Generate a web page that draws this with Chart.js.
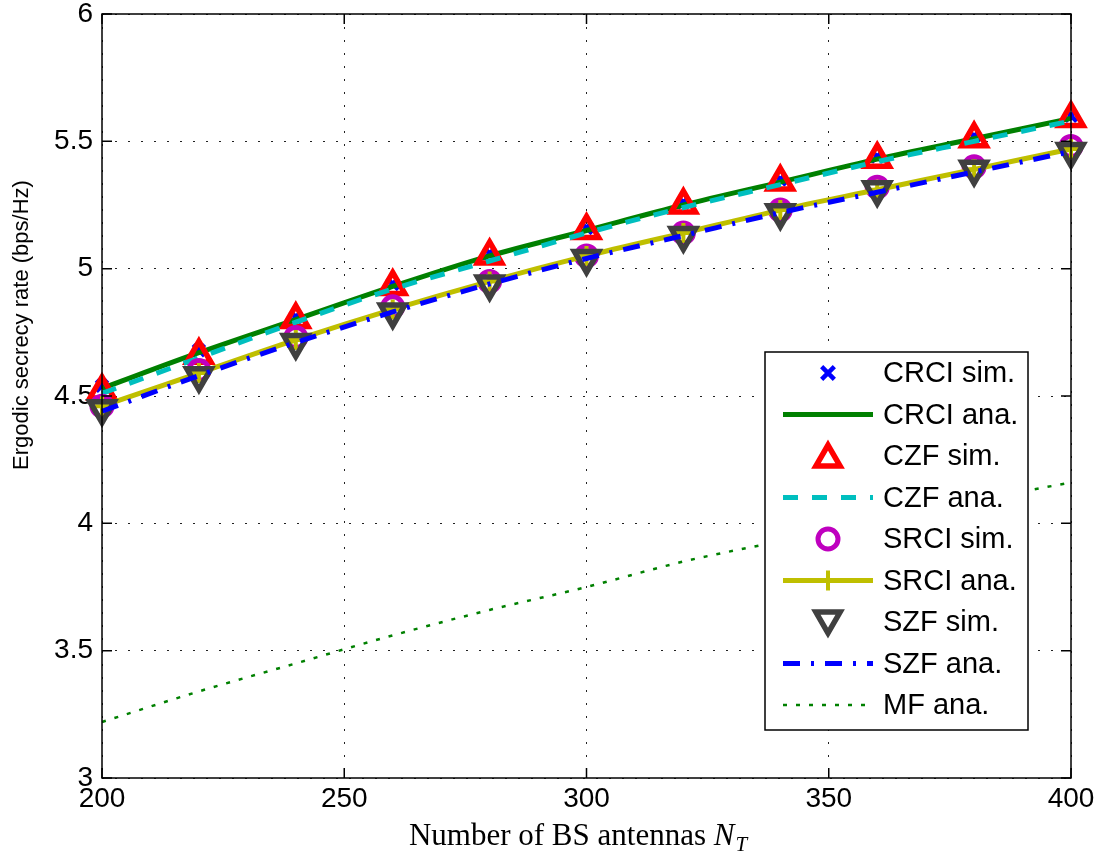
<!DOCTYPE html>
<html>
<head>
<meta charset="utf-8">
<title>Ergodic secrecy rate</title>
<script src="https://cdn.jsdelivr.net/npm/chart.js@4.4.1/dist/chart.umd.min.js"></script>
<style>
    html, body { margin: 0; padding: 0; background: #fff; }
    #wrap { width: 1099px; height: 857px; }
</style>
</head>
<body>
<div id="wrap"><canvas id="rateChart" width="1099" height="857"></canvas></div>
<script>
// ------------------------------
// Data
// ------------------------------

const antennas = [200, 220, 240, 260, 280, 300, 320, 340, 360, 380, 400];

const crciSim = [4.54, 4.68, 4.81, 4.94, 5.06, 5.16, 5.26, 5.35, 5.44, 5.52, 5.60];
const crciAna = [4.53, 4.67, 4.80, 4.93, 5.05, 5.15, 5.25, 5.34, 5.43, 5.51, 5.59];
const czfSim  = [4.52, 4.66, 4.80, 4.93, 5.05, 5.15, 5.25, 5.34, 5.43, 5.51, 5.59];
const czfAna  = [4.51, 4.65, 4.79, 4.92, 5.03, 5.14, 5.24, 5.33, 5.42, 5.50, 5.58];
const srciSim = [4.46, 4.60, 4.73, 4.85, 4.95, 5.05, 5.14, 5.23, 5.32, 5.40, 5.48];
const srciAna = [4.46, 4.59, 4.72, 4.84, 4.95, 5.05, 5.14, 5.23, 5.31, 5.39, 5.47];
const szfSim  = [4.45, 4.58, 4.71, 4.83, 4.94, 5.04, 5.13, 5.22, 5.31, 5.39, 5.46];
const szfAna  = [4.44, 4.58, 4.71, 4.83, 4.94, 5.04, 5.13, 5.22, 5.30, 5.38, 5.46];
const mfAna   = [3.22, 3.34, 3.45, 3.56, 3.66, 3.75, 3.85, 3.93, 4.01, 4.09, 4.16];

const seriesNames = ["CRCI sim.", "CRCI ana.", "CZF sim.", "CZF ana.", "SRCI sim.",
                     "SRCI ana.", "SZF sim.", "SZF ana.", "MF ana."];

const xTicks = [200, 250, 300, 350, 400];
const yTicks = [3, 3.5, 4, 4.5, 5, 5.5, 6];

// ------------------------------
// Helpers
// ------------------------------

function pts(ys) {
    return antennas.map((x, i) => ({ x: x, y: ys[i] }));
}

function markerSet(label, ys, color, style, radius, width, rotation) {
    return {
        label: label,
        data: pts(ys),
        showLine: false,
        borderColor: color,
        backgroundColor: "rgba(0,0,0,0)",
        pointStyle: style,
        pointRadius: radius,
        pointBorderWidth: width,
        pointRotation: rotation || 0,
        pointHoverRadius: radius,
        clip: false
    };
}

function lineSet(label, ys, color, width, dash, pointStyle, pointRadius) {
    return {
        label: label,
        data: pts(ys),
        showLine: true,
        borderColor: color,
        backgroundColor: color,
        borderWidth: width,
        borderDash: dash,
        borderCapStyle: "butt",
        cubicInterpolationMode: "monotone",
        pointStyle: pointStyle || "circle",
        pointRadius: pointRadius || 0,
        pointBorderWidth: 4,
        pointBorderColor: color,
        clip: false
    };
}

const datasets = [
    markerSet(seriesNames[0], crciSim, "#0000ff", "crossRot", 8, 4.5),
    lineSet(seriesNames[1], crciAna, "#008000", 5, []),
    markerSet(seriesNames[2], czfSim, "#ff0000", "triangle", 14, 5.5),
    lineSet(seriesNames[3], czfAna, "#00bfbf", 5, [15, 14]),
    markerSet(seriesNames[4], srciSim, "#bf00bf", "circle", 10, 5),
    lineSet(seriesNames[5], srciAna, "#bfbf00", 5, [], "cross", 10),
    markerSet(seriesNames[6], szfSim, "#404040", "triangle", 14, 5.5, 180),
    lineSet(seriesNames[7], szfAna, "#0000ff", 5, [17, 11, 3, 11]),
    lineSet(seriesNames[8], mfAna, "#008000", 2.5, [4, 9])
];

// later series drawn on top, like the original plot
datasets.forEach((d, i) => { d.order = 100 - i; });

// ------------------------------
// Frame, inward ticks, labels and legend
// ------------------------------

function drawMarker(ctx, style, x, y, r, rot) {
    ctx.beginPath();
    if (style === "crossRot") {
        const d = r * 0.7071;
        ctx.moveTo(x - d, y - d); ctx.lineTo(x + d, y + d);
        ctx.moveTo(x + d, y - d); ctx.lineTo(x - d, y + d);
    } else if (style === "cross") {
        ctx.moveTo(x, y - r); ctx.lineTo(x, y + r);
        ctx.moveTo(x - r, y); ctx.lineTo(x + r, y);
    } else if (style === "triangle") {
        let a = (rot || 0) * Math.PI / 180;
        for (let k = 0; k < 3; k++) {
            const px = x + Math.sin(a) * r, py = y - Math.cos(a) * r;
            if (k === 0) ctx.moveTo(px, py); else ctx.lineTo(px, py);
            a += 2 * Math.PI / 3;
        }
        ctx.closePath();
    } else {
        ctx.arc(x, y, r, 0, 2 * Math.PI);
    }
    ctx.stroke();
}

const framePlugin = {
    id: "framePlugin",

    // pin the top of the plot box (the tick label padding pushes it down otherwise)
    afterLayout(chart) {
        const area = chart.chartArea;
        const y = chart.scales.y;
        const shift = area.top - 14;
        if (shift !== 0) {
            area.top -= shift;
            area.height += shift;
            y.top -= shift;
            y.height += shift;
            y.configure();
        }
    },

    afterDraw(chart) {
        const ctx = chart.ctx;
        const a = chart.chartArea;
        const xs = chart.scales.x, ys = chart.scales.y;
        ctx.save();

        // box
        ctx.strokeStyle = "#000";
        ctx.lineWidth = 1.5;
        ctx.setLineDash([]);
        ctx.strokeRect(a.left, a.top, a.right - a.left, a.bottom - a.top);

        // inward ticks on all four sides
        const tl = 10;
        ctx.beginPath();
        xTicks.forEach(v => {
            const px = xs.getPixelForValue(v);
            ctx.moveTo(px, a.bottom); ctx.lineTo(px, a.bottom - tl);
            ctx.moveTo(px, a.top); ctx.lineTo(px, a.top + tl);
        });
        yTicks.forEach(v => {
            const py = ys.getPixelForValue(v);
            ctx.moveTo(a.left, py); ctx.lineTo(a.left + tl, py);
            ctx.moveTo(a.right, py); ctx.lineTo(a.right - tl, py);
        });
        ctx.stroke();

        // y axis title
        ctx.fillStyle = "#000";
        ctx.font = "22px 'Liberation Sans', Arial, sans-serif";
        ctx.textAlign = "center";
        ctx.textBaseline = "middle";
        ctx.save();
        ctx.translate(22, 325);
        ctx.rotate(-Math.PI / 2);
        ctx.fillText("Ergodic secrecy rate (bps/Hz)", 0, 0);
        ctx.restore();

        // x axis title: "Number of BS antennas N_T"
        const mainTxt = "Number of BS antennas ";
        const serif = "'Liberation Serif', 'Times New Roman', serif";
        ctx.textAlign = "left";
        ctx.textBaseline = "alphabetic";
        ctx.font = "31px " + serif;
        const w1 = ctx.measureText(mainTxt).width;
        ctx.font = "italic 31px " + serif;
        const w2 = ctx.measureText("N").width;
        ctx.font = "italic 21px " + serif;
        const w3 = ctx.measureText("T").width;
        let sx = 578 - (w1 + w2 + w3 + 1) / 2;
        const base = 845;
        ctx.font = "31px " + serif;
        ctx.fillText(mainTxt, sx, base);
        ctx.font = "italic 31px " + serif;
        ctx.fillText("N", sx + w1, base);
        ctx.font = "italic 21px " + serif;
        ctx.fillText("T", sx + w1 + w2 + 1, base + 6);

        // legend
        const lx = 765, ly = 352, lw = 263, lh = 378;
        ctx.fillStyle = "#fff";
        ctx.fillRect(lx, ly, lw, lh);
        ctx.lineWidth = 1.5;
        ctx.strokeStyle = "#000";
        ctx.strokeRect(lx, ly, lw, lh);

        ctx.font = "29px 'Liberation Sans', Arial, sans-serif";
        ctx.textBaseline = "middle";
        chart.data.datasets.forEach((d, i) => {
            const cy = 373 + i * 41.5;
            const x0 = 783, x1 = 873, cx = 828;
            if (d.showLine) {
                ctx.strokeStyle = d.borderColor;
                ctx.lineWidth = d.borderWidth;
                ctx.lineCap = "butt";
                ctx.setLineDash(d.borderDash || []);
                ctx.beginPath();
                ctx.moveTo(x0, cy); ctx.lineTo(x1, cy);
                ctx.stroke();
                ctx.setLineDash([]);
                if (d.pointRadius > 0) {
                    ctx.lineWidth = d.pointBorderWidth;
                    drawMarker(ctx, d.pointStyle, cx, cy, d.pointRadius, 0);
                }
            } else {
                ctx.strokeStyle = d.borderColor;
                ctx.lineWidth = d.pointBorderWidth;
                ctx.setLineDash([]);
                const r = d.pointStyle === "crossRot" ? 9 : d.pointRadius;
                drawMarker(ctx, d.pointStyle, cx, cy + (d.pointStyle === "triangle" ? (d.pointRotation ? -3 : 3) : 0),
                           r, d.pointRotation);
            }
            ctx.fillStyle = "#000";
            ctx.fillText(d.label, 883, cy + 1);
        });

        ctx.restore();
    }
};

// ------------------------------
// Chart
// ------------------------------

new Chart(document.getElementById("rateChart"), {

    type: "scatter",

    data: { datasets: datasets },

    options: {
        responsive: false,
        animation: false,
        events: [],
        layout: { padding: { top: 14, right: 28, left: 0, bottom: 0 } },
        plugins: {
            legend: { display: false },
            tooltip: { enabled: false }
        },
        scales: {
            x: {
                type: "linear",
                min: 200,
                max: 400,
                afterFit(scale) {
                    scale.height = 79;
                    scale.paddingLeft = 0;
                    scale.paddingRight = 0;
                },
                afterBuildTicks(scale) { scale.ticks = xTicks.map(v => ({ value: v })); },
                grid: { color: "#222", lineWidth: 1, drawTicks: false },
                border: { display: false, dash: [2, 11] },
                ticks: {
                    color: "#000",
                    padding: 4,
                    maxRotation: 0,
                    font: { family: "'Liberation Sans', Arial, sans-serif", size: 28 }
                }
            },
            y: {
                type: "linear",
                min: 3,
                max: 6,
                afterFit(scale) {
                    scale.width = 102;
                    scale.paddingTop = 0;
                    scale.paddingBottom = 0;
                },
                afterBuildTicks(scale) { scale.ticks = yTicks.map(v => ({ value: v })); },
                grid: { color: "#222", lineWidth: 1, drawTicks: false },
                border: { display: false, dash: [2, 11] },
                ticks: {
                    color: "#000",
                    padding: 9,
                    font: { family: "'Liberation Sans', Arial, sans-serif", size: 28 },
                    callback: v => String(v)
                }
            }
        }
    },

    plugins: [framePlugin]

});
</script>
</body>
</html>
